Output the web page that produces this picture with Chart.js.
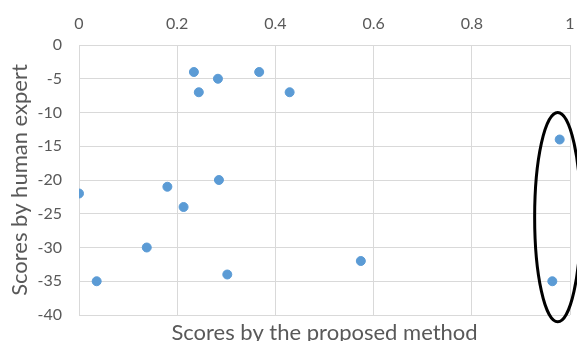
<!DOCTYPE html>
<html>
<head>
<meta charset="utf-8">
<script src="https://cdn.jsdelivr.net/npm/chart.js@4/dist/chart.umd.min.js"></script>
<style>
  html, body { margin: 0; padding: 0; background: #fff; }
  #wrap { width: 577px; height: 341px; }
</style>
</head>
<body>
<div id="wrap"><canvas id="myChart"></canvas></div>
<script>
// scores
const methodScores = [0.234, 0.244, 0.283, 0.367, 0.429, 0.979, 0, 0.180, 0.213, 0.285, 0.138, 0.036, 0.302, 0.574, 0.964];
const expertScores = [-4, -7, -5, -4, -7, -14, -22, -21, -24, -20, -30, -35, -34, -32, -35];
const xTicks = [0, 0.2, 0.4, 0.6, 0.8, 1];
const yTicks = [0, -5, -10, -15, -20, -25, -30, -35, -40];

// the hand drawn ring round the two outliers (data units)
const ringCenter = [0.975, -25.5];
const ringRadius = [0.047, 15.5];

const grey = '#595959';
const gridGrey = '#d9d9d9';
const font = 'Lato, "Open Sans", sans-serif';

const points = methodScores.map((v, i) => ({ x: v, y: expertScores[i] }));

// draws the ellipse through the chart's scales
const ringPlugin = {
  id: 'ring',
  afterDatasetsDraw(chart) {
    const ctx = chart.ctx;
    const xs = chart.scales.x;
    const ys = chart.scales.y;
    const cx = xs.getPixelForValue(ringCenter[0]);
    const cy = ys.getPixelForValue(ringCenter[1]);
    const rx = Math.abs(xs.getPixelForValue(ringCenter[0] + ringRadius[0]) - cx);
    const ry = Math.abs(ys.getPixelForValue(ringCenter[1] + ringRadius[1]) - cy);
    ctx.save();
    ctx.beginPath();
    ctx.ellipse(cx, cy, rx, ry, 0, 0, Math.PI * 2);
    ctx.lineWidth = 3;
    ctx.strokeStyle = '#000';
    ctx.stroke();
    ctx.restore();
  }
};

const chart = new Chart(document.getElementById('myChart'), {
  type: 'scatter',
  data: {
    datasets: [{
      data: points,
      backgroundColor: '#5b9bd5',
      borderColor: '#5b9bd5',
      pointRadius: 4.5,
      pointHoverRadius: 4.5
    }]
  },
  options: {
    responsive: true,
    maintainAspectRatio: false,
    animation: false,
    layout: { padding: { left: 0, right: 7, top: 0, bottom: 0 } },
    plugins: {
      legend: { display: false },
      tooltip: { enabled: false }
    },
    scales: {
      x: {
        type: 'linear',
        position: 'top',
        min: 0,
        max: 1,
        afterBuildTicks: (s) => { s.ticks = xTicks.map(v => ({ value: v })); },
        afterFit: (s) => { s.height = 45; s.paddingLeft = 0; s.paddingRight = 0; },
        ticks: {
          color: grey,
          font: { family: font, size: 16 },
          padding: 12,
          callback: (v) => String(v)
        },
        grid: { color: gridGrey, drawTicks: false },
        border: { color: gridGrey }
      },
      // bottom axis only carries the title
      x2: {
        type: 'linear',
        position: 'bottom',
        min: 0,
        max: 1,
        afterFit: (s) => { s.height = 26; s.paddingLeft = 0; s.paddingRight = 0; },
        ticks: { display: false },
        grid: { display: false, drawTicks: false },
        border: { display: false },
        title: {
          display: true,
          text: 'Scores by the proposed method',
          color: grey,
          font: { family: font, size: 22, lineHeight: 1.2 },
          padding: { top: 0, bottom: -5 }
        }
      },
      y: {
        type: 'linear',
        min: -40,
        max: 0,
        afterBuildTicks: (s) => { s.ticks = yTicks.map(v => ({ value: v })); },
        afterFit: (s) => { s.width = 79; s.paddingTop = 0; s.paddingBottom = 0; },
        ticks: {
          color: grey,
          font: { family: font, size: 16 },
          padding: 17,
          callback: (v) => String(v)
        },
        grid: { color: gridGrey, drawTicks: false },
        border: { color: gridGrey },
        title: {
          display: true,
          text: 'Scores by human expert',
          color: grey,
          font: { family: font, size: 22, lineHeight: 1.2 },
          padding: { top: 7, bottom: 0 }
        }
      }
    }
  },
  plugins: [ringPlugin]
});
</script>
</body>
</html>
